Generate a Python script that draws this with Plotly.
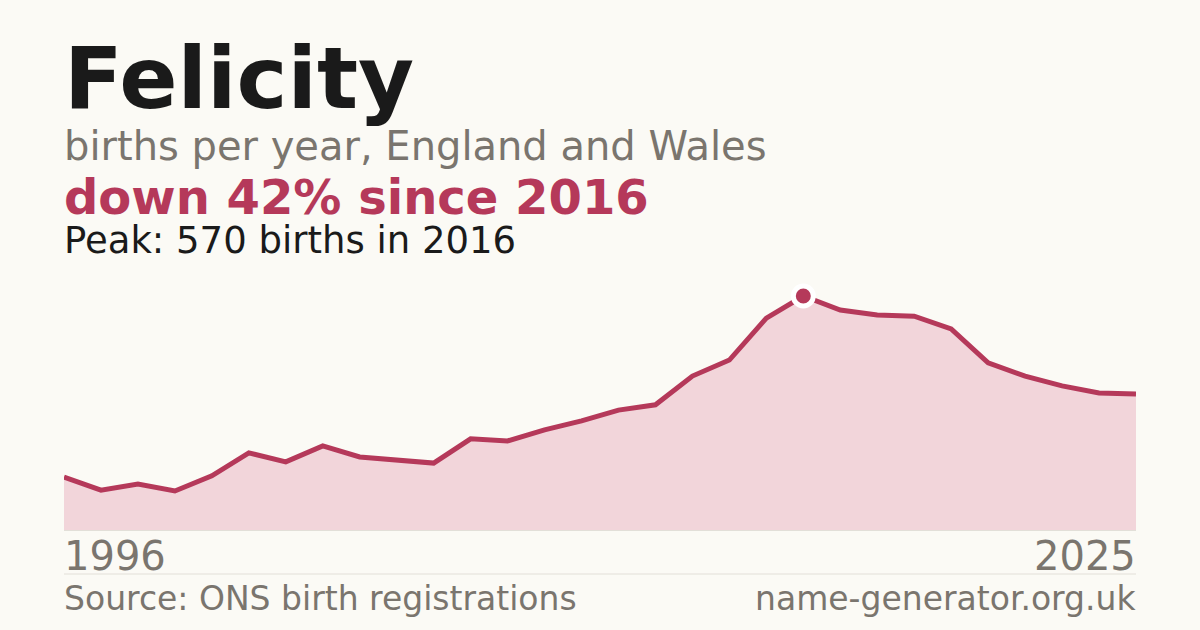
import plotly.graph_objects as go

# births per year for "Felicity", England and Wales
years = list(range(1996, 2026))
births = [129, 97, 112, 95, 132, 188, 166, 205, 178, 171,
          163, 222, 217, 244, 266, 292, 305, 375, 414, 516,
          570, 536, 524, 521, 490, 407, 375, 351, 334, 331]

peak_year = 2016
peak_value = 570

W, H = 1200, 630
BG = '#fbfaf5'
RED = '#b5395a'
GREY = '#7a756e'
INK = '#1a1a1a'
FONT = 'DejaVu Sans'


def px(x):
    return x / W


def py(y):
    return 1 - y / H


fig = go.Figure()

# filled area under the line
fig.add_trace(go.Scatter(x=years, y=births, mode='lines',
                         line=dict(color=RED, width=5),
                         fill='tozeroy', fillcolor='#f2d5da',
                         hoverinfo='skip'))

# peak marker
fig.add_trace(go.Scatter(x=[peak_year], y=[peak_value], mode='markers',
                         marker=dict(color=RED, size=20,
                                     line=dict(color='white', width=5)),
                         hoverinfo='skip'))

annotations = [
    dict(text='<b>Felicity</b>', x=px(62), y=py(78), xanchor='left', yanchor='middle',
         font=dict(size=86, color=INK)),
    dict(text='births per year, England and Wales', x=px(62), y=py(146),
         xanchor='left', yanchor='middle', font=dict(size=40, color=GREY)),
    dict(text='<b>down 42% since 2016</b>', x=px(62), y=py(197),
         xanchor='left', yanchor='middle', font=dict(size=48, color=RED)),
    dict(text='Peak: 570 births in 2016', x=px(62), y=py(241),
         xanchor='left', yanchor='middle', font=dict(size=37, color=INK)),
    dict(text=str(years[0]), x=px(62), y=py(556), xanchor='left', yanchor='middle',
         font=dict(size=40, color=GREY)),
    dict(text=str(years[-1]), x=px(1138), y=py(556), xanchor='right', yanchor='middle',
         font=dict(size=40, color=GREY)),
    dict(text='Source: ONS birth registrations', x=px(62), y=py(598),
         xanchor='left', yanchor='middle', font=dict(size=33, color=GREY)),
    dict(text='name-generator.org.uk', x=px(1138), y=py(598),
         xanchor='right', yanchor='middle', font=dict(size=33, color=GREY)),
]
for a in annotations:
    a.update(xref='paper', yref='paper', showarrow=False)

shapes = [
    dict(type='line', xref='paper', yref='paper', x0=px(64), x1=px(1136),
         y0=py(530.5), y1=py(530.5), line=dict(color='#e2dfd8', width=1)),
    dict(type='line', xref='paper', yref='paper', x0=px(64), x1=px(1136),
         y0=py(574), y1=py(574), line=dict(color='#e2dfd8', width=1)),
]

fig.update_layout(
    width=W, height=H,
    margin=dict(l=0, r=0, t=0, b=0),
    paper_bgcolor=BG, plot_bgcolor=BG,
    showlegend=False,
    font=dict(family=FONT),
    xaxis=dict(domain=[px(64), px(1136)], range=[years[0], years[-1]],
               visible=False, fixedrange=True),
    yaxis=dict(domain=[py(530), py(272)], range=[0, 628.5],
               visible=False, fixedrange=True),
    annotations=annotations,
    shapes=shapes,
)

# drop the default page margin so the figure fills the window
fig.write_html('out.html', config={'displayModeBar': False},
               post_script="document.body.style.margin='0';"
                           "document.body.style.background='#fbfaf5';")
